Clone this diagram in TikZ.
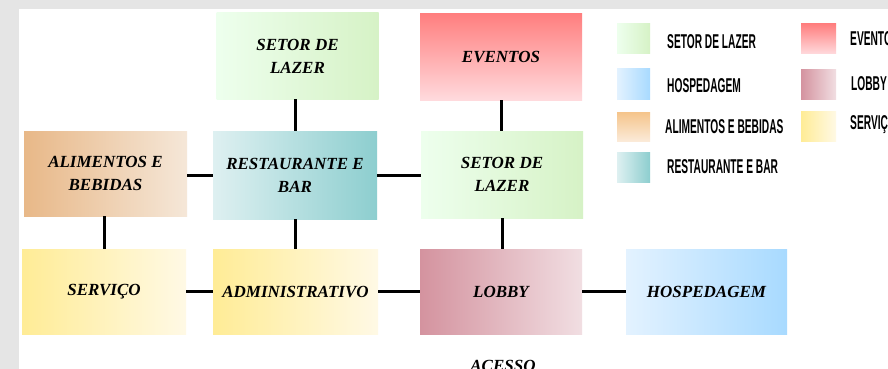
\documentclass[tikz,border=0pt]{standalone}
\usepackage{fontspec}
\setmainfont{Liberation Serif}
\newfontfamily\legfont{Liberation Sans}
\begin{document}
\begin{tikzpicture}[x=1pt,y=-1pt,
  box/.style={draw=none,rectangle,minimum width=#1,inner sep=0pt,align=center,
    font=\fontsize{17}{23}\selectfont\bfseries\itshape},
  box/.default=162pt,
  link/.style={line width=3pt,black},
  leg/.style={anchor=west,inner sep=0pt,font=\legfont\bfseries\fontsize{20}{20}\selectfont},
  gLazer/.style={left color=green!2!white!95!green, right color={rgb,255:red,214;green,242;blue,198}},
  gEvent/.style={top color={rgb,255:red,255;green,127;blue,127}, bottom color={rgb,255:red,255;green,218;blue,221}},
  gAlim/.style={left color={rgb,255:red,232;green,184;blue,136}, right color={rgb,255:red,245;green,231;blue,216}},
  gAlimV/.style={top color={rgb,255:red,245;green,196;blue,138}, bottom color={rgb,255:red,251;green,234;blue,216}},
  gRest/.style={left color={rgb,255:red,222;green,240;blue,241}, right color={rgb,255:red,141;green,206;blue,207}},
  gServ/.style={left color={rgb,255:red,255;green,236;blue,150}, right color={rgb,255:red,255;green,249;blue,229}},
  gLobby/.style={left color={rgb,255:red,212;green,147;blue,159}, right color={rgb,255:red,241;green,222;blue,226}},
  gHosp/.style={left color={rgb,255:red,227;green,242;blue,255}, right color={rgb,255:red,168;green,218;blue,255}}
]
\useasboundingbox (0,0) rectangle (888,369);
\clip (0,0) rectangle (888,369);
\fill[black!10] (0,0) rectangle (888,369);
\fill[white] (19,9) rectangle (888,369);

% boxes
\node[box, gLazer, minimum height=86pt] (lazerA) at (297.5,56) {SETOR DE\\LAZER};
\node[box, gEvent, minimum height=86pt] (eventos) at (501,57) {EVENTOS};
\node[box=163pt, gAlim, minimum height=85pt] (alim) at (105.5,173.5) {ALIMENTOS E\\BEBIDAS};
\node[box=164pt, gRest, minimum height=88pt] (rest) at (295,175) {RESTAURANTE E\\BAR};
\node[box, gLazer, minimum height=87pt] (lazerB) at (502,174.5) {SETOR DE\\LAZER};
\node[box=164pt, gServ, minimum height=85pt] (serv) at (104,291.5) {SERVIÇO};
\node[box=165pt, gServ, minimum height=85pt] (admin) at (295.5,291.5) {ADMINISTRATIVO};
\node[box, gLobby, minimum height=85pt] (lobby) at (501,291.5) {LOBBY};
\node[box=161pt, gHosp, minimum height=85pt] (hosp) at (706.5,291.5) {HOSPEDAGEM};
\node[font=\fontsize{17}{17}\selectfont\bfseries\itshape, inner sep=0pt] (acesso) at (503,366) {ACESSO};

% connectors
\draw[link] (lazerA.south -| rest.north) -- (rest.north);
\draw[link] (eventos.south) -- (eventos.south |- lazerB.north);
\draw[link] (alim.east |- rest.west) -- (rest.west);
\draw[link] (rest.east) -- (rest.east -| lazerB.west);
\draw[link] (alim.south -| serv.north) -- (serv.north);
\draw[link] (rest.south) -- (rest.south |- admin.north);
\draw[link] (lazerB.south) -- (lazerB.south |- lobby.north);
\draw[link] (serv.east) -- (admin.west);
\draw[link] (admin.east) -- (lobby.west);
\draw[link] (lobby.east) -- (hosp.west);

% legend
\path[gLazer] (617,24) rectangle (650,54);
\path[gHosp] (617,68) rectangle (650,99);
\path[gAlimV] (617,112) rectangle (650,141);
\path[gRest] (617,152) rectangle (650,182);
\path[gEvent] (801,24) rectangle (836,54);
\path[gLobby] (801,69) rectangle (836,99);
\path[gServ] (801,111) rectangle (836,141);

\node[leg] (l1) at (667,42) {\scalebox{0.51}[1]{SETOR DE LAZER}};
\node[leg] (l2) at (667,86) {\scalebox{0.51}[1]{HOSPEDAGEM}};
\node[leg] (l3) at (665,127) {\scalebox{0.51}[1]{ALIMENTOS E BEBIDAS}};
\node[leg] (l4) at (667,167) {\scalebox{0.51}[1]{RESTAURANTE E BAR}};
\node[leg] (l5) at (850,39) {\scalebox{0.51}[1]{EVENTOS}};
\node[leg] (l6) at (851,84) {\scalebox{0.51}[1]{LOBBY}};
\node[leg] (l7) at (850,125) {\scalebox{0.51}[1]{SERVIÇO}};
\end{tikzpicture}
\end{document}
